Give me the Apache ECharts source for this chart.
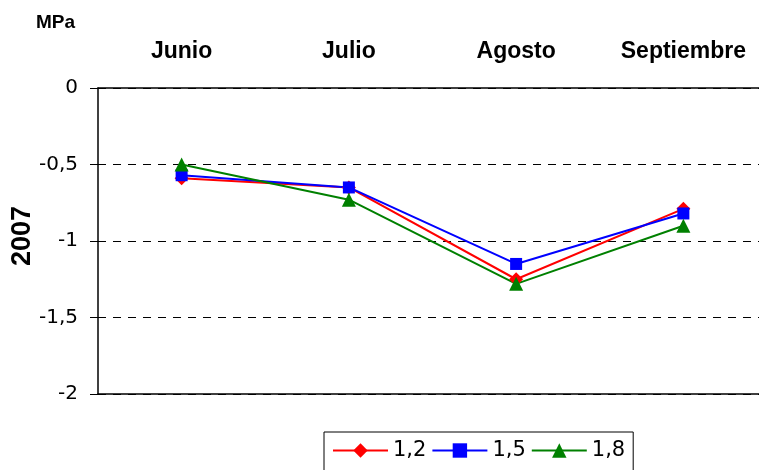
<!DOCTYPE html>
<html>
<head>
<meta charset="utf-8">
<script src="https://cdn.jsdelivr.net/npm/echarts@6/dist/echarts.min.js"></script>
<style>html,body{margin:0;padding:0;background:#fff}#c{width:759px;height:470px}</style>
</head>
<body>
<div id="c"></div>
<script>
var months = ['Junio', 'Julio', 'Agosto', 'Septiembre'];
var s12 = [-0.59, -0.65, -1.25, -0.79];
var s15 = [-0.57, -0.65, -1.15, -0.82];
var s18 = [-0.50, -0.73, -1.28, -0.90];
var seriesNames = ['1,2', '1,5', '1,8'];
var yTicks = { min: -2, max: 0, step: 0.5 };

var chart = echarts.init(document.getElementById('c'), null, { renderer: 'canvas' });
var tickFont = 'DejaVu Sans';
function mk(name, data, color, symbol, size) {
  return {
    name: name, type: 'line', data: data, xAxisIndex: 0,
    symbol: symbol, symbolSize: size,
    lineStyle: { color: color, width: 2 },
    itemStyle: { color: color },
    animation: false
  };
}
chart.setOption({
  animation: false,
  backgroundColor: '#fff',
  grid: { left: 98, top: 88, width: 669, bottom: 76, outerBoundsMode: 'none', containLabel: false },
  graphic: [
    { type: 'text', left: 36, top: 13, style: { text: 'MPa', font: 'bold 19px "Liberation Sans"', fill: '#000' } },
    { type: 'text', x: 23, y: 236, rotation: Math.PI / 2,
      style: { text: '2007', font: 'bold 27px "Liberation Sans"', fill: '#000', align: 'center', verticalAlign: 'middle' } }
  ],
  legend: {
    left: 324, top: 432,
    data: seriesNames,
    orient: 'horizontal',
    itemWidth: 55, itemHeight: 18, itemGap: 5,
    padding: [8, 8, 30, 8],
    borderColor: '#000', borderWidth: 1,
    textStyle: { fontFamily: tickFont, fontSize: 21, color: '#000' }
  },
  xAxis: [
    {
      type: 'category', position: 'top', data: months, boundaryGap: true,
      axisLine: { lineStyle: { color: '#000', width: 1.5 } },
      axisTick: { inside: true, length: 7, lineStyle: { color: '#000' } },
      axisLabel: { margin: 25, fontFamily: 'Liberation Sans', fontWeight: 'bold', fontSize: 23, color: '#000' },
      splitLine: { show: false }
    },
    {
      type: 'category', position: 'bottom', data: months, boundaryGap: true,
      axisLine: { lineStyle: { color: '#000', width: 1.5 } },
      axisTick: { show: false }, axisLabel: { show: false }, splitLine: { show: false }
    }
  ],
  yAxis: {
    type: 'value', min: yTicks.min, max: yTicks.max, interval: yTicks.step,
    axisLine: { show: true, lineStyle: { color: '#000', width: 1.5 } },
    axisTick: { show: true, length: 8, lineStyle: { color: '#000' } },
    axisLabel: { margin: 20, fontFamily: tickFont, fontSize: 20, color: '#000',
      formatter: function (v) { return String(v).replace('.', ','); } },
    splitLine: { show: true, lineStyle: { color: '#000', type: [8, 7], width: 1 } }
  },
  series: [
    mk(seriesNames[0], s12, '#ff0000', 'diamond', 14),
    mk(seriesNames[1], s15, '#0000ff', 'rect', 12),
    mk(seriesNames[2], s18, '#008000', 'triangle', 14)
  ]
});
</script>
</body>
</html>
